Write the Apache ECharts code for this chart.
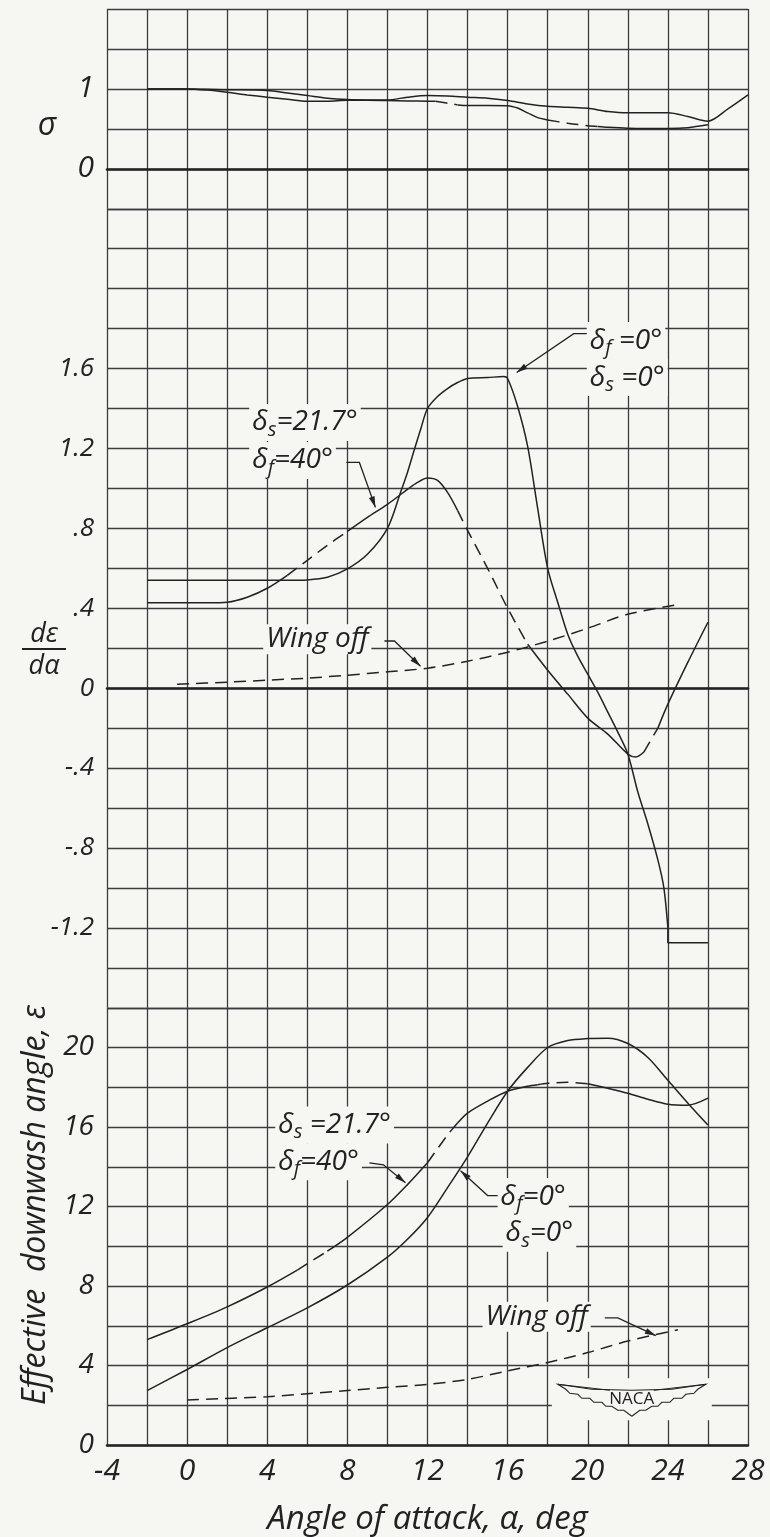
<!DOCTYPE html>
<html><head><meta charset="utf-8">
<script src="https://cdn.jsdelivr.net/npm/echarts/dist/echarts.min.js"></script>
<style>html,body{margin:0;padding:0;background:#f6f6f3;}#c{width:770px;height:1537px;}</style>
</head><body><div id="c"></div>
<script>
// ---------------- DATA ----------------
// Angle-of-attack tick labels
const ALPHA_TICKS = [-4, 0, 4, 8, 12, 16, 20, 24, 28];
const ALPHA_TICK_LABELS = ['-4', '0', '4', '8', '12', '16', '20', '24', '28'];
const SIGMA_TICKS = [0, 1];
const SIGMA_TICK_LABELS = ['0', '1'];
const DEDA_TICKS = [1.6, 1.2, 0.8, 0.4, 0, -0.4, -0.8, -1.2];
const DEDA_TICK_LABELS = ['1.6', '1.2', '.8', '.4', '0', '-.4', '-.8', '-1.2'];
const EPS_TICKS = [0, 4, 8, 12, 16, 20];
const EPS_TICK_LABELS = ['0', '4', '8', '12', '16', '20'];

// sigma (dynamic-pressure ratio) - upper curve
const SIGMA_UP_ALPHA = [-2, 0, 2, 4, 5, 6, 7, 8, 9, 10, 11, 12, 13, 14, 15, 16, 17, 18, 19, 20, 21, 22, 23, 24, 25, 26, 27, 28];
const SIGMA_UP = [1.0, 1.0, 0.99, 0.98, 0.95, 0.917, 0.883, 0.866, 0.862, 0.862, 0.896, 0.917, 0.912, 0.896, 0.883, 0.854, 0.812, 0.783, 0.771, 0.758, 0.717, 0.70, 0.70, 0.70, 0.655, 0.596, 0.75, 0.925];
// sigma - lower curve
const SIGMA_LO_ALPHA = [-2, 0, 1, 2, 3, 4, 5, 6, 7, 8, 9, 10, 11, 12, 12.4, 13.5, 14, 15, 16, 16.5, 17, 17.5, 18, 19, 20, 20.5, 21, 22, 23, 24, 25, 26];
const SIGMA_LO = [1.0, 1.0, 0.985, 0.958, 0.925, 0.896, 0.87, 0.846, 0.846, 0.858, 0.858, 0.854, 0.85, 0.846, 0.845, 0.80, 0.792, 0.792, 0.79, 0.76, 0.70, 0.64, 0.612, 0.57, 0.54, 0.53, 0.52, 0.508, 0.505, 0.505, 0.515, 0.55];
const SIGMA_LO_DASHED = [[12.4, 13.5], [18, 20.5]];

// d(epsilon)/d(alpha) - delta_f = 0, delta_s = 0
const DEDA_F0_ALPHA = [-2, 0, 2, 4, 5, 6, 7, 8, 9, 10, 10.67, 11, 11.33, 11.67, 12, 12.5, 13, 13.5, 14, 15, 15.8, 16, 16.5, 17, 17.5, 18, 18.5, 19, 19.5, 20, 20.5, 21, 21.5, 22, 22.5, 23, 23.5, 23.8, 24];
const DEDA_F0 = [0.54, 0.54, 0.54, 0.54, 0.54, 0.542, 0.555, 0.597, 0.67, 0.80, 0.985, 1.08, 1.19, 1.30, 1.40, 1.46, 1.50, 1.53, 1.55, 1.555, 1.56, 1.55, 1.41, 1.21, 0.90, 0.60, 0.43, 0.27, 0.16, 0.07, -0.02, -0.12, -0.22, -0.33, -0.52, -0.68, -0.86, -1.0, -1.2];
const DEDA_F0_TAIL_ALPHA = [24, 24, 26];
const DEDA_F0_TAIL = [-1.2, -1.275, -1.275];
// d(epsilon)/d(alpha) - delta_s = 21.7, delta_f = 40
const DEDA_FLAP_ALPHA = [-2, 0, 1, 2, 3, 4, 5, 6, 7, 8, 9, 10, 11, 11.5, 12, 12.5, 13, 13.5, 14, 15, 16, 17, 18, 19, 20, 21, 22, 22.4, 22.8, 23.5, 24, 25, 26];
const DEDA_FLAP = [0.427, 0.427, 0.427, 0.43, 0.455, 0.50, 0.565, 0.64, 0.715, 0.785, 0.855, 0.92, 0.995, 1.03, 1.052, 1.04, 0.98, 0.89, 0.79, 0.60, 0.40, 0.22, 0.09, -0.03, -0.15, -0.23, -0.33, -0.345, -0.32, -0.20, -0.08, 0.13, 0.33];
const DEDA_FLAP_DASHED = [[5, 8], [13.5, 17], [22.8, 23.5]];
// d(epsilon)/d(alpha) - wing off
const DEDA_WO_ALPHA = [-0.5, 2, 4, 6, 8, 10, 12, 14, 16, 18, 20, 22, 24.6];
const DEDA_WO = [0.02, 0.03, 0.04, 0.05, 0.065, 0.082, 0.10, 0.135, 0.18, 0.235, 0.30, 0.37, 0.42];

// effective downwash angle - delta_s = 21.7, delta_f = 40
const EPS_FLAP_ALPHA = [-2, 0, 2, 4, 5.5, 7, 8, 10, 11, 12, 13, 13.5, 14, 15, 16, 17, 17.5, 18, 19, 20, 21, 22, 23, 24, 25, 26];
const EPS_FLAP = [5.3, 6.1, 6.95, 7.95, 8.8, 9.75, 10.45, 12.1, 13.1, 14.2, 15.6, 16.2, 16.7, 17.3, 17.8, 18.05, 18.13, 18.2, 18.25, 18.18, 17.95, 17.7, 17.4, 17.15, 17.1, 17.45];
const EPS_FLAP_DASHED = [[5.5, 7], [12, 13.5], [17.5, 20]];
// effective downwash angle - delta_f = 0, delta_s = 0
const EPS_F0_ALPHA = [-2, 0, 2, 4, 6, 8, 10, 11, 12, 13, 14, 15, 16, 17, 18, 19, 20, 21, 22, 23, 24, 25, 26];
const EPS_F0 = [2.74, 3.8, 4.9, 5.9, 6.9, 8.05, 9.45, 10.35, 11.45, 12.95, 14.5, 16.2, 17.8, 19.0, 20.0, 20.35, 20.45, 20.47, 20.2, 19.5, 18.35, 17.2, 16.1];
// effective downwash angle - wing off
const EPS_WO_ALPHA = [0, 4, 8, 10, 12, 14, 16, 18, 20, 22, 24.5];
const EPS_WO = [2.27, 2.43, 2.74, 2.9, 3.05, 3.3, 3.73, 4.15, 4.65, 5.23, 5.8];

// ---------------- STYLE / LAYOUT ----------------
const BG = '#f6f6f3', INK = '#222', GRIDC = '#3c3c3c';
const FONT = '"Open Sans", Roboto, "Liberation Sans", sans-serif';
const LEFT = 107, WIDTH = 641, TOP = 9, CELL = 39.95;
const GRIDS = [
  {top: TOP, height: 5 * CELL, min: -0.5, max: 2.0, interval: 0.5, ticks: SIGMA_TICKS, labels: SIGMA_TICK_LABELS, fs: 30},
  {top: TOP + 5 * CELL, height: 20 * CELL, min: -1.6, max: 2.4, interval: 0.2, ticks: DEDA_TICKS, labels: DEDA_TICK_LABELS, fs: 26},
  {top: TOP + 25 * CELL, height: 11 * CELL, min: 0, max: 22, interval: 2, ticks: EPS_TICKS, labels: EPS_TICK_LABELS, fs: 28}
];

function fmt(ticks, labels) {
  return v => { const i = ticks.findIndex(t => Math.abs(t - v) < 1e-6); return i >= 0 ? labels[i] : ''; };
}

function segments(alpha, vals, dashRanges, allDashed) {
  const segs = []; let cur = null;
  for (let i = 0; i < alpha.length - 1; i++) {
    const a0 = alpha[i], a1 = alpha[i + 1];
    const d = !!allDashed || dashRanges.some(r => a0 >= r[0] - 1e-9 && a1 <= r[1] + 1e-9);
    if (!cur || cur.dashed !== d) { cur = {dashed: d, data: [[a0, vals[i]]]}; segs.push(cur); }
    cur.data.push([a1, vals[i + 1]]);
  }
  return segs;
}

const CURVES = [
  {g: 0, a: SIGMA_UP_ALPHA, v: SIGMA_UP, dash: []},
  {g: 0, a: SIGMA_LO_ALPHA, v: SIGMA_LO, dash: SIGMA_LO_DASHED},
  {g: 1, a: DEDA_F0_ALPHA, v: DEDA_F0, dash: []},
  {g: 1, a: DEDA_F0_TAIL_ALPHA, v: DEDA_F0_TAIL, dash: [], straight: true},
  {g: 1, a: DEDA_FLAP_ALPHA, v: DEDA_FLAP, dash: DEDA_FLAP_DASHED},
  {g: 1, a: DEDA_WO_ALPHA, v: DEDA_WO, dash: [], all: true},
  {g: 2, a: EPS_FLAP_ALPHA, v: EPS_FLAP, dash: EPS_FLAP_DASHED},
  {g: 2, a: EPS_F0_ALPHA, v: EPS_F0, dash: []},
  {g: 2, a: EPS_WO_ALPHA, v: EPS_WO, dash: [], all: true}
];

const series = [];
CURVES.forEach(c => {
  segments(c.a, c.v, c.dash, c.all).forEach(s => {
    series.push({
      type: 'line', xAxisIndex: c.g, yAxisIndex: c.g, data: s.data,
      symbol: 'none', smooth: c.straight ? false : 0.3, silent: true, z: 3,
      lineStyle: {color: INK, width: 1.5, type: s.dashed ? [12, 7] : 'solid'}
    });
  });
});

const TXT = {fontFamily: FONT, fontStyle: 'italic', fontWeight: 400, color: INK};
const chart = echarts.init(document.getElementById('c'), null, {renderer: 'canvas'});
chart.setOption({
  backgroundColor: BG,
  animation: false,
  grid: GRIDS.map(g => ({left: LEFT, width: WIDTH, top: g.top, height: g.height, containLabel: false})),
  xAxis: GRIDS.map((g, i) => ({
    type: 'value', gridIndex: i, min: -4, max: 28, interval: 2,
    axisLine: {show: true, onZero: i < 2, lineStyle: {color: INK, width: 2.6}},
    axisTick: {show: false},
    axisLabel: Object.assign({show: i === 2, formatter: fmt(ALPHA_TICKS, ALPHA_TICK_LABELS), showMinLabel: true, showMaxLabel: true,
      fontSize: 30, margin: 11}, TXT),
    splitLine: {show: true, lineStyle: {color: GRIDC, width: 1.3}},
    name: i === 2 ? 'Angle of attack, α, deg' : '', nameLocation: 'middle', nameGap: 58,
    nameTextStyle: Object.assign({fontSize: 33}, TXT)
  })),
  yAxis: GRIDS.map((g, i) => ({
    type: 'value', gridIndex: i, min: g.min, max: g.max, interval: g.interval,
    axisLine: {show: false, onZero: false},
    axisTick: {show: false},
    axisLabel: Object.assign({formatter: fmt(g.ticks, g.labels), showMinLabel: true, showMaxLabel: true,
      fontSize: g.fs, margin: 13}, TXT),
    splitLine: {show: true, lineStyle: {color: GRIDC, width: 1.3}}
  })),
  series: series
});

// ---------------- ANNOTATIONS ----------------
function P(g, a, v) { return chart.convertToPixel({xAxisIndex: g, yAxisIndex: g}, [a, v]); }
const gfx = [];
function deltaLabel(g, a, v, sub, rest, size) {
  const p = P(g, a, v);
  gfx.push({type: 'text', x: p[0], y: p[1], z: 20, style: {
    text: '{m|δ}{s|' + sub + '}{m|' + rest + '}', align: 'left', verticalAlign: 'middle',
    backgroundColor: BG, padding: [1, 3, 1, 3],
    rich: {
      m: {fontFamily: FONT, fontStyle: 'italic', fontWeight: 400, fontSize: size, fill: INK, lineHeight: size * 1.25},
      s: {fontFamily: FONT, fontStyle: 'italic', fontWeight: 400, fontSize: size * 0.72, fill: INK, verticalAlign: 'bottom'}
    }}});
}
function plainLabel(g, a, v, text, size) {
  const p = P(g, a, v);
  gfx.push({type: 'text', x: p[0], y: p[1], z: 20, style: {text: text, align: 'left', verticalAlign: 'middle',
    backgroundColor: BG, padding: [1, 3, 1, 3],
    fontFamily: FONT, fontStyle: 'italic', fontWeight: 400, fontSize: size, fill: INK}});
}
function leader(g, pts) {
  const px = pts.map(q => P(g, q[0], q[1]));
  gfx.push({type: 'polyline', z: 21, shape: {points: px}, style: {stroke: INK, lineWidth: 1.3, fill: null}});
  const t = px[px.length - 1], f = px[px.length - 2];
  const dx = t[0] - f[0], dy = t[1] - f[1], L = Math.hypot(dx, dy), ux = dx / L, uy = dy / L;
  const bl = 11, bw = 3;
  gfx.push({type: 'polygon', z: 21, shape: {points: [t,
    [t[0] - ux * bl - uy * bw, t[1] - uy * bl + ux * bw],
    [t[0] - ux * bl + uy * bw, t[1] - uy * bl - ux * bw]]}, style: {fill: INK}});
}

// d(eps)/d(alpha) panel
deltaLabel(1, 19.95, 1.74, 'f', ' =0°', 28);
deltaLabel(1, 19.95, 1.555, 's', ' =0°', 28);
leader(1, [[19.95, 1.775], [19.3, 1.775], [16.45, 1.58]]);
deltaLabel(1, 3.1, 1.33, 's', '=21.7°', 28);
deltaLabel(1, 3.1, 1.14, 'f', '=40°', 28);
leader(1, [[7.95, 1.13], [8.6, 1.13], [9.4, 0.905]]);
plainLabel(1, 3.8, 0.245, 'Wing off', 28);
leader(1, [[9.85, 0.236], [10.35, 0.236], [11.65, 0.11]]);

// epsilon panel
deltaLabel(2, 4.4, 16.1, 's', ' =21.7°', 28);
deltaLabel(2, 4.4, 14.25, 'f', '=40°', 28);
leader(2, [[9.1, 14.2], [9.8, 14.1], [10.9, 13.2]]);
deltaLabel(2, 15.5, 12.5, 'f', '=0°', 28);
deltaLabel(2, 15.75, 10.65, 's', '=0°', 28);
leader(2, [[15.5, 12.55], [15.0, 12.55], [13.65, 13.8]]);
plainLabel(2, 14.75, 6.45, 'Wing off', 28);
leader(2, [[20.85, 6.4], [21.5, 6.4], [23.4, 5.5]]);

// NACA emblem
(function () {
  const c = P(2, 22.2, 2.35), cx = c[0], cy = c[1];
  gfx.push({type: 'rect', z: 19, shape: {x: cx - 80, y: cy - 20, width: 160, height: 42}, style: {fill: BG}});
  const wing = s => [[s * 22, -8], [s * 74, -14], [s * 66, -9], [s * 62, -5], [s * 54, -4], [s * 50, 0], [s * 42, 0], [s * 38, 4], [s * 30, 4], [s * 26, 8], [s * 20, 8], [s * 14, 12], [s * 8, 12], [0, 18]];
  [-1, 1].forEach(s => gfx.push({type: 'polyline', z: 22, shape: {points: wing(s).map(q => [cx + q[0], cy + q[1]])},
    style: {stroke: INK, lineWidth: 1.1, fill: null}}));
  gfx.push({type: 'polyline', z: 22, shape: {points: [[cx - 74, cy - 14], [cx - 40, cy - 9], [cx, cy - 8], [cx + 40, cy - 9], [cx + 74, cy - 14]]},
    style: {stroke: INK, lineWidth: 1.1, fill: null}});
  gfx.push({type: 'text', z: 23, x: cx, y: cy + 1, style: {text: 'NACA', align: 'center', verticalAlign: 'middle',
    fontFamily: FONT, fontSize: 17, fontWeight: 400, fill: INK}});
})();

// axis names
gfx.push({type: 'text', x: 47, y: 126, z: 20, style: {text: 'σ', align: 'center', verticalAlign: 'middle',
  fontFamily: FONT, fontStyle: 'italic', fontWeight: 400, fontSize: 32, fill: INK}});
gfx.push({type: 'text', x: 44, y: 634, z: 20, style: {text: 'dε', align: 'center', verticalAlign: 'middle',
  fontFamily: FONT, fontStyle: 'italic', fontWeight: 400, fontSize: 27, fill: INK}});
gfx.push({type: 'line', z: 20, shape: {x1: 22, y1: 649, x2: 66, y2: 649}, style: {stroke: INK, lineWidth: 1.8}});
gfx.push({type: 'text', x: 44, y: 666, z: 20, style: {text: 'dα', align: 'center', verticalAlign: 'middle',
  fontFamily: FONT, fontStyle: 'italic', fontWeight: 400, fontSize: 27, fill: INK}});
gfx.push({type: 'text', x: 36, y: 1205, z: 20, rotation: Math.PI / 2, style: {text: 'Effective  downwash angle, ε', align: 'center', verticalAlign: 'middle',
  fontFamily: FONT, fontStyle: 'italic', fontWeight: 400, fontSize: 32, fill: INK}});

chart.setOption({graphic: gfx});
</script></body></html>
